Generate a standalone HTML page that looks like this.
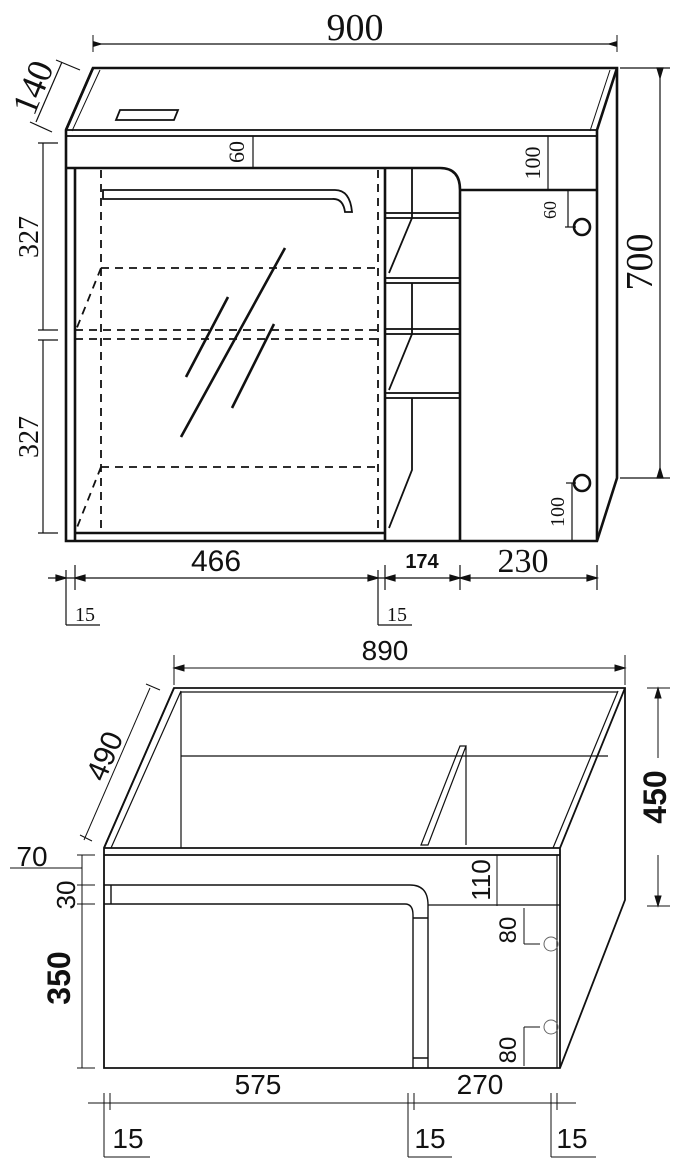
<!DOCTYPE html>
<html><head><meta charset="utf-8"><style>
html,body{margin:0;padding:0;background:#fff;}
svg{display:block;}
.s{font-family:"Liberation Serif",serif;fill:#111;}
.a{font-family:"Liberation Sans",sans-serif;fill:#111;}
</style></head><body>
<svg width="681" height="1163" viewBox="0 0 681 1163" xmlns="http://www.w3.org/2000/svg">
<g stroke="#111" fill="none" stroke-width="2.6">
<!-- TOP DRAWING -->
<line x1="93" y1="44" x2="617" y2="44" stroke-width="1.2"/>
<path d="M103,44 L93,41 L93,47z M607,44 L617,41 L617,47z" fill="#111" stroke="none"/>
<line x1="93" y1="35" x2="93" y2="52" stroke-width="1"/><line x1="617" y1="35" x2="617" y2="52" stroke-width="1"/>
<path d="M93,68 L617,68 L617,478 L597,541 L66,541 L66,130 Z"/>
<path d="M66,130 L93,68 M597,130 L617,68 M597,130 L597,541"/>
<path d="M100,70 L72,131 M610,70 L590,131" stroke-width="1"/>
<rect x="66" y="130" width="531" height="6" stroke-width="1.8"/>
<path d="M120,110 L178,110 L174,120 L116,120 Z" stroke-width="1.8"/>
<line x1="66" y1="168" x2="440" y2="168"/>
<path d="M440,168 Q460,168 460,190 L460,541 M460,190 L597,190"/>
<line x1="75" y1="168" x2="75" y2="541"/>
<line x1="75" y1="533" x2="385" y2="533"/>
<line x1="385" y1="168" x2="385" y2="541"/>
<g stroke-dasharray="8,6" stroke-width="1.8">
<line x1="101" y1="170" x2="101" y2="533"/><line x1="378" y1="170" x2="378" y2="533"/>
<line x1="101" y1="268" x2="378" y2="268"/><line x1="75" y1="330" x2="378" y2="330"/>
<line x1="75" y1="339" x2="378" y2="339"/><line x1="101" y1="467" x2="378" y2="467"/>
<line x1="101" y1="268" x2="76" y2="330"/><line x1="101" y1="467" x2="76" y2="530"/>
</g>
<path d="M103,190 L335,190 Q350,190 352,212 L345,212 Q343,198 332,199 L103,199 Z" stroke-width="1.8"/>
<path d="M285,248 L181,437 M228,297 L186,377 M274,324 L232,408"/>
<g stroke-width="1.8">
<rect x="385" y="213" width="75" height="5"/><rect x="385" y="278" width="75" height="5"/>
<rect x="385" y="329" width="75" height="5"/><rect x="385" y="393" width="75" height="5"/>
<path d="M412,168 L412,218 L389,273 M412,283 L412,334 L389,390 M412,398 L412,470 L389,528"/>
</g>
<circle cx="582" cy="227" r="8"/><circle cx="582" cy="483" r="8"/>
<g stroke-width="1.2">
<line x1="620" y1="68" x2="670" y2="68"/><line x1="620" y1="478" x2="670" y2="478"/>
<line x1="660" y1="68" x2="660" y2="478"/>
<path d="M660,78 L657,68 L663,68z M660,468 L657,478 L663,478z" fill="#111"/>
<line x1="38" y1="143" x2="58" y2="143"/><line x1="43" y1="143" x2="43" y2="330"/>
<line x1="38" y1="330" x2="58" y2="330"/><line x1="38" y1="340" x2="58" y2="340"/>
<line x1="43" y1="340" x2="43" y2="533"/><line x1="38" y1="533" x2="58" y2="533"/>
<line x1="253" y1="136" x2="253" y2="168"/>
<line x1="548" y1="136" x2="548" y2="190"/>
<line x1="568" y1="190" x2="568" y2="227"/><line x1="565" y1="227" x2="576" y2="227"/>
<line x1="572" y1="483" x2="572" y2="541"/><line x1="566" y1="483" x2="576" y2="483"/>
<line x1="62" y1="62" x2="36" y2="122"/><line x1="56" y1="60" x2="80" y2="70"/><line x1="30" y1="122" x2="52" y2="132"/>
<line x1="48" y1="578" x2="597" y2="578"/>
<line x1="66" y1="570" x2="66" y2="625"/><line x1="75" y1="565" x2="75" y2="590"/>
<line x1="378" y1="570" x2="378" y2="625"/><line x1="385" y1="565" x2="385" y2="590"/>
<line x1="460" y1="565" x2="460" y2="590"/><line x1="597" y1="565" x2="597" y2="590"/>
<line x1="66" y1="625" x2="100" y2="625"/><line x1="378" y1="625" x2="412" y2="625"/>
<path d="M66,578 L56,575 L56,581z M75,578 L85,575 L85,581z M378,578 L368,575 L368,581z M385,578 L395,575 L395,581z M460,578 L450,575 L450,581z M460,578 L470,575 L470,581z M597,578 L587,575 L587,581z" fill="#111"/>
</g>
</g>
<!-- BOTTOM DRAWING -->
<g stroke="#111" fill="none">
<path d="M174,688 L625,688 L625,900 L560,1068 L104,1068 L104,848 Z" stroke-width="1.8"/>
<path d="M104,848 L174,688 M560,848 L625,688 M560,848 L560,1068 M104,848 L560,848 M104,855 L560,855" stroke-width="1.8"/>
<path d="M181,691 L111,848 M618,691 L553,848 M181,692 L618,692" stroke-width="1.2"/>
<path d="M181,692 L181,848 M181,756 L608,756" stroke-width="1.2"/>
<path d="M460,746 L466,746 L428,845 L421,845 Z M466,746 L466,845" stroke-width="1.2"/>
<path d="M104,885 L410,885 Q428,885 428,905 L428,1068 M104,904 L405,904 Q413,904 413,915 L413,1068 M413,1058 L428,1058 M413,918 L428,918 M111,885 L111,904" stroke-width="1.4"/>
<path d="M428,905 L560,905 M557,855 L557,1068" stroke-width="1.2"/>
<circle cx="551" cy="944" r="7" stroke-width="1" stroke="#666"/><circle cx="551" cy="1027" r="7" stroke-width="1" stroke="#666"/>
<g stroke-width="1">
<line x1="174" y1="668" x2="625" y2="668"/><line x1="174" y1="655" x2="174" y2="685"/><line x1="625" y1="655" x2="625" y2="685"/>
<path d="M174,668 L184,665 L184,671z M625,668 L615,665 L615,671z" fill="#111"/>
<line x1="647" y1="688" x2="670" y2="688"/><line x1="658" y1="688" x2="658" y2="758"/>
<line x1="658" y1="855" x2="658" y2="906"/><line x1="647" y1="906" x2="670" y2="906"/>
<path d="M658,688 L655,698 L661,698z M658,906 L655,896 L661,896z" fill="#111"/>
<line x1="150" y1="688" x2="84" y2="840"/><line x1="146" y1="684" x2="160" y2="690"/><line x1="80" y1="835" x2="92" y2="841"/>
<line x1="10" y1="868" x2="82" y2="868"/><line x1="82" y1="855" x2="82" y2="1068"/>
<line x1="77" y1="855" x2="95" y2="855"/><line x1="77" y1="885" x2="95" y2="885"/><line x1="77" y1="904" x2="95" y2="904"/><line x1="77" y1="1068" x2="95" y2="1068"/>
<line x1="497" y1="855" x2="497" y2="906"/>
<line x1="524" y1="908" x2="524" y2="944"/><line x1="524" y1="944" x2="540" y2="944"/>
<line x1="524" y1="1027" x2="524" y2="1066"/><line x1="524" y1="1027" x2="540" y2="1027"/>
<line x1="88" y1="1103" x2="576" y2="1103"/>
<line x1="104" y1="1093" x2="104" y2="1157"/><line x1="110" y1="1093" x2="110" y2="1110"/>
<line x1="408" y1="1093" x2="408" y2="1157"/><line x1="414" y1="1093" x2="414" y2="1110"/>
<line x1="551" y1="1093" x2="551" y2="1157"/><line x1="557" y1="1093" x2="557" y2="1110"/>
<line x1="104" y1="1157" x2="150" y2="1157"/><line x1="408" y1="1157" x2="452" y2="1157"/><line x1="551" y1="1157" x2="596" y2="1157"/>
</g>
</g>
<text class="s" x="355" y="40" font-size="38" text-anchor="middle">900</text>
<text class="s" font-size="36" text-anchor="middle" transform="translate(44,92) rotate(-68)">140</text>
<text class="s" font-size="22" text-anchor="middle" transform="translate(244,152) rotate(-90)">60</text>
<text class="s" font-size="22" text-anchor="middle" transform="translate(540,163) rotate(-90)">100</text>
<text class="s" font-size="18" text-anchor="middle" transform="translate(556,210) rotate(-90)">60</text>
<text class="s" font-size="20" text-anchor="middle" transform="translate(564,512) rotate(-90)">100</text>
<text class="s" font-size="38" text-anchor="middle" transform="translate(652,262) rotate(-90)">700</text>
<text class="s" font-size="28" text-anchor="middle" transform="translate(38,237) rotate(-90)">327</text>
<text class="s" font-size="28" text-anchor="middle" transform="translate(38,437) rotate(-90)">327</text>
<text class="a" x="216" y="571" font-size="30" text-anchor="middle">466</text>
<text class="a" x="422" y="568" font-size="20" font-weight="bold" text-anchor="middle">174</text>
<text class="s" x="523" y="572" font-size="34" text-anchor="middle">230</text>
<text class="s" x="85" y="621" font-size="20" text-anchor="middle">15</text>
<text class="s" x="397" y="621" font-size="20" text-anchor="middle">15</text>
<text class="a" x="385" y="660" font-size="28" text-anchor="middle">890</text>
<text class="a" font-size="30" text-anchor="middle" transform="translate(114,760) rotate(-67)">490</text>
<text class="a" font-size="32" font-weight="bold" text-anchor="middle" transform="translate(666,797) rotate(-90)">450</text>
<text class="a" x="32" y="866" font-size="28" text-anchor="middle">70</text>
<text class="a" font-size="26" text-anchor="middle" transform="translate(75,895) rotate(-90)">30</text>
<text class="a" font-size="32" font-weight="bold" text-anchor="middle" transform="translate(70,978) rotate(-90)">350</text>
<text class="a" font-size="26" text-anchor="middle" transform="translate(490,880) rotate(-90)">110</text>
<text class="a" font-size="24" text-anchor="middle" transform="translate(516,930) rotate(-90)">80</text>
<text class="a" font-size="24" text-anchor="middle" transform="translate(516,1050) rotate(-90)">80</text>
<text class="a" x="258" y="1094" font-size="28" text-anchor="middle">575</text>
<text class="a" x="480" y="1094" font-size="28" text-anchor="middle">270</text>
<text class="a" x="128" y="1148" font-size="28" text-anchor="middle">15</text>
<text class="a" x="430" y="1148" font-size="28" text-anchor="middle">15</text>
<text class="a" x="572" y="1148" font-size="28" text-anchor="middle">15</text>
</svg>
</body></html>
